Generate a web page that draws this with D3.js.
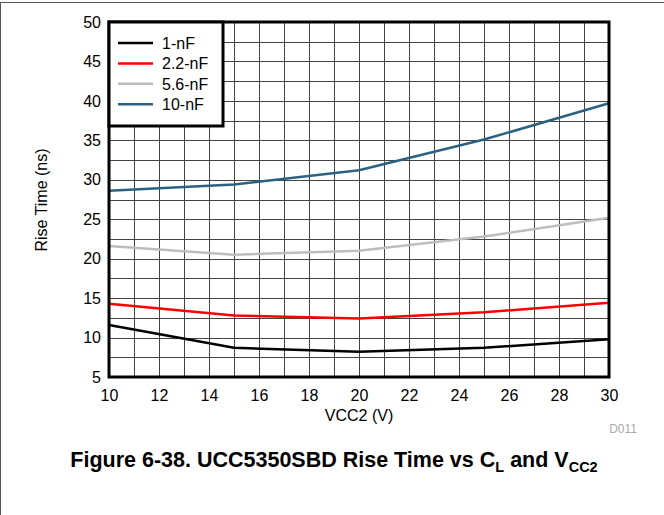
<!DOCTYPE html>
<html>
<head>
<meta charset="utf-8">
<script src="https://cdn.jsdelivr.net/npm/d3@7"></script>
<style>
  body { margin: 0; background: #fff; }
  svg { display: block; font-family: "Liberation Sans", Arial, sans-serif; }
</style>
</head>
<body>
<svg id="chart" width="664" height="515"></svg>
<script>
'use strict';

// VCC2 (V)
const vcc = [10, 15, 20, 25, 30];
// rise time (ns) per load
const rise1nF = [11.6, 8.7, 8.2, 8.7, 9.8];
const rise2p2nF = [14.3, 12.8, 12.4, 13.2, 14.4];
const rise5p6nF = [21.6, 20.5, 21.0, 22.8, 25.2];
const rise10nF = [28.6, 29.4, 31.2, 35.1, 39.7];

const seriesNames = ['1-nF', '2.2-nF', '5.6-nF', '10-nF'];
const seriesColors = ['#000000', '#ff0000', '#bdbdbd', '#2b6282'];
const xTicks = [10, 12, 14, 16, 18, 20, 22, 24, 26, 28, 30];
const yTicks = [5, 10, 15, 20, 25, 30, 35, 40, 45, 50];

const series = [rise1nF, rise2p2nF, rise5p6nF, rise10nF].map((vals, i) => ({
  name: seriesNames[i],
  color: seriesColors[i],
  points: vcc.map((v, j) => [v, vals[j]])
}));

const svg = d3.select('#chart');
const plotL = 109, plotR = 609, plotT = 22, plotB = 377;

const x = d3.scaleLinear().domain([10, 30]).range([plotL, plotR]);
const y = d3.scaleLinear().domain([5, 50]).range([plotB, plotT]);

// page frame (top and left edges only)
svg.append('line')
  .attr('x1', 0).attr('x2', 664).attr('y1', 2.5).attr('y2', 2.5)
  .attr('stroke', '#555').attr('stroke-width', 1);
svg.append('line')
  .attr('x1', 0.5).attr('x2', 0.5).attr('y1', 2).attr('y2', 515)
  .attr('stroke', '#555').attr('stroke-width', 1);

// grid
const grid = svg.append('g').attr('stroke', '#444').attr('stroke-width', 1);
grid.selectAll('line.v')
  .data(d3.range(11, 30))
  .join('line')
  .attr('class', 'v')
  .attr('x1', d => Math.round(x(d)) + 0.5).attr('x2', d => Math.round(x(d)) + 0.5)
  .attr('y1', plotT).attr('y2', plotB);
grid.selectAll('line.h')
  .data(d3.range(7.5, 50, 2.5))
  .join('line')
  .attr('class', 'h')
  .attr('y1', d => Math.round(y(d)) + 0.5).attr('y2', d => Math.round(y(d)) + 0.5)
  .attr('x1', plotL).attr('x2', plotR);

// axes (labels only)
const xAxis = svg.append('g')
  .attr('transform', `translate(0,${plotB})`)
  .call(d3.axisBottom(x).tickValues(xTicks).tickSize(0).tickPadding(13));
const yAxis = svg.append('g')
  .attr('transform', `translate(${plotL},0)`)
  .call(d3.axisLeft(y).tickValues(yTicks).tickSize(0).tickPadding(8));
[xAxis, yAxis].forEach(a => {
  a.select('.domain').remove();
  a.selectAll('text')
    .attr('font-size', 16)
    .attr('fill', '#000')
    .attr('font-family', '"Liberation Sans", Arial, sans-serif');
});

// series
const line = d3.line()
  .x(d => x(d[0]))
  .y(d => y(d[1]));

svg.append('g')
  .selectAll('path')
  .data(series)
  .join('path')
  .attr('d', d => line(d.points))
  .attr('fill', 'none')
  .attr('stroke', d => d.color)
  .attr('stroke-width', 2.5)
  .attr('stroke-linejoin', 'round');

// plot frame
svg.append('rect')
  .attr('x', plotL).attr('y', plotT)
  .attr('width', plotR - plotL).attr('height', plotB - plotT)
  .attr('fill', 'none').attr('stroke', '#000').attr('stroke-width', 3);

// legend
const legend = svg.append('g');
legend.append('rect')
  .attr('x', plotL).attr('y', plotT)
  .attr('width', 114).attr('height', 104)
  .attr('fill', '#fff').attr('stroke', '#000').attr('stroke-width', 3);
const items = legend.selectAll('g.item')
  .data(series)
  .join('g')
  .attr('class', 'item')
  .attr('transform', (d, i) => `translate(0,${43 + i * 20.4})`);
items.append('line')
  .attr('x1', 118).attr('x2', 153)
  .attr('stroke', d => d.color).attr('stroke-width', 2.5);
items.append('text')
  .attr('x', 162).attr('dy', '0.36em')
  .attr('font-size', 16)
  .text(d => d.name);

// axis titles
svg.append('text')
  .attr('x', 359).attr('y', 421)
  .attr('text-anchor', 'middle')
  .attr('font-size', 16)
  .text('VCC2 (V)');
svg.append('text')
  .attr('transform', 'translate(47,200) rotate(-90)')
  .attr('text-anchor', 'middle')
  .attr('font-size', 16)
  .text('Rise Time (ns)');

svg.append('text')
  .attr('x', 637).attr('y', 433)
  .attr('text-anchor', 'end')
  .attr('font-size', 12)
  .attr('fill', '#aaa')
  .text('D011');

// caption
const cap = svg.append('text')
  .attr('x', 334).attr('y', 467)
  .attr('text-anchor', 'middle')
  .attr('font-size', 21.5)
  .attr('font-weight', 'bold');
cap.append('tspan').text('Figure 6-38. UCC5350SBD Rise Time vs C');
cap.append('tspan').attr('font-size', 14.5).attr('dy', 5).text('L');
cap.append('tspan').attr('dy', -5).text(' and V');
cap.append('tspan').attr('font-size', 14.5).attr('dy', 5).text('CC2');
</script>
</body>
</html>
